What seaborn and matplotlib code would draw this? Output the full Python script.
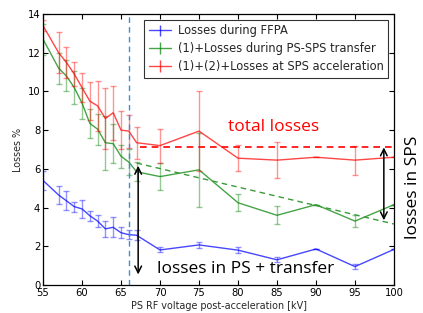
"""
PS/SPS losses vs PS RF post-acceleration voltage.
"""
import matplotlib
matplotlib.use("Agg")
import matplotlib.pyplot as plt
import pandas as pd
import seaborn as sns

# data
voltage_kv = [55, 57, 58, 59, 60, 61, 62, 63, 64, 65, 66, 67, 70, 75, 80, 85, 90, 95, 100]

losses_ffpa = [5.4, 4.65, 4.35, 4.05, 3.93, 3.58, 3.3, 2.9, 2.98, 2.7, 2.6, 2.57,
               1.81, 2.07, 1.8, 1.3, 1.86, 0.95, 1.84]
err_ffpa = [0.5, 0.46, 0.49, 0.26, 0.47, 0.25, 0.3, 0.43, 0.52, 0.27, 0.22, 0.26,
            0.13, 0.14, 0.14, 0.12, 0.0, 0.12, 0.0]

losses_transfer = [12.7, 11.2, 10.8, 10.2, 9.4, 8.35, 8.05, 7.35, 7.3, 6.65, 6.35, 5.85,
                   5.6, 5.95, 4.25, 3.6, 4.15, 3.3, 4.15]
err_transfer = [0.8, 0.8, 0.8, 0.85, 0.8, 0.75, 0.8, 1.4, 1.0, 0.6, 0.65, 0.5,
                0.7, 1.9, 0.45, 0.47, 0.0, 0.3, 0.0]

losses_sps = [13.4, 12.0, 11.5, 10.9, 10.2, 9.5, 9.25, 8.6, 8.9, 8.0, 7.95, 7.35,
              7.2, 7.95, 6.55, 6.45, 6.6, 6.45, 6.6]
err_sps = [0.3, 1.05, 0.8, 0.6, 0.75, 1.0, 1.3, 1.6, 1.4, 1.0, 0.85, 0.83,
           0.88, 2.05, 0.67, 0.93, 0.0, 0.75, 0.0]

series_labels = [
    "Losses during FFPA",
    "(1)+Losses during PS-SPS transfer",
    "(1)+(2)+Losses at SPS acceleration",
]
series_colors = ["#0000ff", "#008000", "#ff0000"]

ffpa_voltage = 66
total_level = 7.15
trend_x = [67, 100]
trend_y = [6.3, 3.15]

sns.set_theme(style="ticks")
plt.rcParams["font.family"] = ["DejaVu Sans"]
plt.rcParams["xtick.direction"] = "in"
plt.rcParams["ytick.direction"] = "in"
plt.rcParams["xtick.top"] = True
plt.rcParams["ytick.right"] = True
plt.rcParams["axes.edgecolor"] = "black"
plt.rcParams["axes.linewidth"] = 0.9

fig = plt.figure(figsize=(4.23, 3.13), dpi=100)
ax = fig.add_axes([0.1017, 0.0895, 0.8297, 0.8658])

df = pd.DataFrame({
    "voltage": voltage_kv * 3,
    "losses": losses_ffpa + losses_transfer + losses_sps,
    "err": err_ffpa + err_transfer + err_sps,
    "series": sum([[s] * len(voltage_kv) for s in series_labels], []),
})

handles = []
for label, color in zip(series_labels, series_colors):
    sub = df[df["series"] == label]
    sns.lineplot(data=sub, x="voltage", y="losses", color=color, lw=1.0,
                 alpha=0.72, legend=False, ax=ax)
    ax.errorbar(sub["voltage"], sub["losses"], yerr=sub["err"], fmt="none",
                ecolor=color, elinewidth=1.0, capsize=2.5, capthick=1.0, alpha=0.42)
    h = ax.errorbar([], [], yerr=[], fmt="-", color=color, lw=1.0, alpha=0.72,
                    elinewidth=1.0, capsize=3, capthick=1.0)
    handles.append(h)

ax.axvline(ffpa_voltage, color="#3a8fdc", lw=1.0, ls=(0, (4, 3)))
ax.plot([67.4, 100], [total_level, total_level], color="red", lw=1.2, ls=(0, (4, 3)))
ax.plot(trend_x, trend_y, color="#3a9a3a", lw=1.0, ls=(0, (4, 3)))

ax.annotate("", xy=(67.2, 0.4), xytext=(67.2, 6.3),
            arrowprops=dict(arrowstyle="<->", color="black", lw=1.1))
ax.annotate("", xy=(98.7, 3.2), xytext=(98.7, 7.25),
            arrowprops=dict(arrowstyle="<->", color="black", lw=1.1))

ax.text(84.6, 8.15, "total losses", color="red", fontsize=12.5,
        family=["Open Sans", "DejaVu Sans"], ha="center", va="center")
ax.text(69.6, 0.82, "losses in PS + transfer", color="black", fontsize=12.5,
        family=["Open Sans", "DejaVu Sans"], ha="left", va="center")
fig.text(0.976, 0.403, "losses in SPS", color="black", fontsize=12.5, rotation=90,
         family=["Open Sans", "DejaVu Sans"], ha="center", va="center")

ax.set_xlim(55, 100)
ax.set_ylim(0, 14)
ax.set_xticks(range(55, 101, 5))
ax.set_yticks(range(0, 15, 2))
ax.tick_params(labelsize=7.2, length=3.5, width=0.8, pad=2, colors="black")
ax.set_xlabel("PS RF voltage post-acceleration [kV]", fontsize=6.9, labelpad=2)
ax.set_ylabel("Losses %", fontsize=6.9, labelpad=3)

leg = ax.legend(handles, series_labels, loc="upper right", fontsize=8.3,
                frameon=True, fancybox=False, borderaxespad=0.5,
                handlelength=1.9, labelspacing=0.42, borderpad=0.4,
                handletextpad=0.6)
leg.get_frame().set_edgecolor("black")
leg.get_frame().set_linewidth(0.8)

fig.savefig("out.png", dpi=100)
